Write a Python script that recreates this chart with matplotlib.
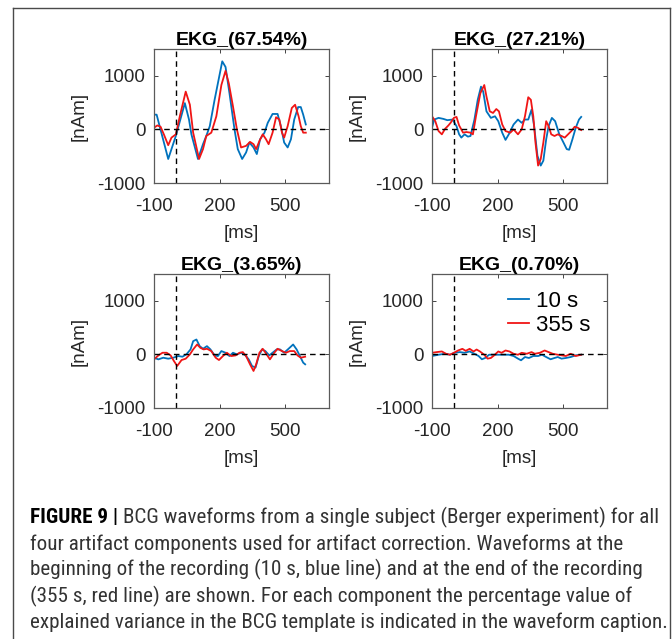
import matplotlib
matplotlib.use("Agg")
import matplotlib.pyplot as plt
from matplotlib.lines import Line2D
from matplotlib import font_manager
import numpy as np

plt.rcParams['font.family'] = ['Liberation Sans', 'DejaVu Sans']

# ---------------- data ----------------
titles = ["EKG_(67.54%)", "EKG_(27.21%)", "EKG_(3.65%)", "EKG_(0.70%)"]
series_labels = ["10 s", "355 s"]
xticks = [-100, 200, 500]
yticks = [-1000, 0, 1000]

# Panel 1
t1_blue = [-100, -88, -35, 0, 41, 60, 71, 101, 124, 139, 155, 177, 212, 227, 245, 268, 283, 303, 321, 336,
           355, 370, 385, 405, 420, 442, 465, 480, 495, 511, 526, 541, 559, 571, 582, 594]
v1_blue = [275, 275, -552, -120, 490, 184, -92, -552, -276, -123, 61, 552, 1270, 1165, 675, 0, -368, -552, -430, -245,
           -337, -460, -184, -61, 123, 288, 288, 61, -245, -337, -184, 184, 417, 417, 276, 92]
t1_red = [-100, -85, -70, -55, -35, -20, 0, 18, 45, 64, 79, 106, 124, 139, 162, 185, 208, 227, 242, 261,
          279, 298, 321, 339, 355, 367, 382, 397, 412, 424, 442, 458, 473, 485, 495, 511, 530, 545, 561, 571, 582, 594]
v1_red = [30, 74, 50, -92, -295, -153, -92, 245, 705, 460, -61, -552, -368, -123, -61, 245, 828, 1092, 859, 430,
          0, -337, -307, -233, -276, -368, -215, -92, -184, -276, -61, 227, 184, -61, -153, 61, 400, 460, 245, 61, -61, -61]

# Panel 2
t2_blue = [-100, -90, -70, -48, -30, -6, 12, 24, 34, 49, 64, 76, 94, 109, 124, 134, 149, 169, 188, 203,
           221, 236, 251, 273, 293, 310, 325, 340, 355, 367, 382, 397, 409, 422, 433, 448, 463, 482, 501, 516,
           527, 542, 557, 572, 582]
v2_blue = [30, 184, 215, 196, 172, 184, 61, -92, -153, -92, -135, -123, 184, 552, 798, 705, 337, 215, 245, 153,
           -61, -196, -92, 92, 184, 123, 184, 184, 368, 61, -490, -675, -583, -184, 61, 215, 153, -92, -245, -368,
           -380, -184, 30, 184, 233]
t2_red = [-100, -85, -70, -55, -40, -25, -15, 0, 12, 24, 42, 57, 76, 87, 101, 121, 139, 149, 164, 179,
          194, 206, 221, 236, 258, 273, 293, 310, 325, 340, 352, 363, 373, 385, 397, 409, 422, 433, 445, 460,
          475, 492, 507, 522, 537, 552, 567, 582]
v2_red = [245, 153, -31, -92, 12, 74, 123, 215, 233, 74, -61, -49, -61, -92, 245, 675, 828, 613, 337, 307,
          380, 337, 92, -31, -61, 0, -92, 0, 245, 600, 552, 245, -245, -675, -552, -245, 153, 61, -92, -123,
          -92, -123, -153, -92, -31, 49, 30, -12]

# Panel 3
t3_blue = [-100, -80, -58, -35, -12, 11, 30, 48, 67, 79, 94, 109, 124, 142, 158, 177, 192, 208, 227, 245,
           261, 279, 298, 318, 333, 348, 364, 379, 394, 409, 427, 442, 461, 476, 495, 515, 536, 552, 567, 582, 591]
v3_blue = [-62, -93, -62, -80, -62, -31, -43, 0, 93, 247, 278, 154, 105, 154, 93, -19, -31, 62, 31, -31,
           31, 0, 31, -19, -93, -216, -247, -31, 93, 62, -19, 31, 93, 93, 31, 105, 185, 93, -31, -154, -185]
t3_red = [-100, -80, -61, -42, -24, -9, 6, 26, 45, 64, 79, 97, 112, 127, 142, 162, 182, 197, 215, 233,
          253, 273, 291, 306, 321, 339, 355, 367, 382, 397, 415, 430, 450, 465, 485, 503, 521, 541, 556, 571, 591]
v3_red = [-93, -19, 31, 31, -19, -123, -216, -105, -80, 0, 93, 185, 123, 93, 105, 62, -62, -105, -31, 31,
          -31, -19, 31, 43, -31, -185, -309, -185, 31, 105, 0, -93, 31, 105, 62, 31, 62, 62, -19, -62, -43]

# Panel 4
t4_blue = [-100, -70, -40, -18, 4, 27, 49, 72, 94, 113, 128, 143, 161, 184, 206, 228, 251, 273, 293, 307,
           325, 343, 363, 385, 403, 422, 442, 460, 475, 492, 512, 534, 557, 582]
v4_blue = [-30, -6, 12, -6, 30, 43, 30, 55, 12, -30, -91, -67, -6, -6, -6, -6, -6, -30, -79, -110,
           -49, -67, -30, -30, -6, -49, -91, -67, -49, -79, -67, -49, -18, -6]
t4_red = [-100, -78, -55, -36, -18, 0, 19, 39, 54, 72, 90, 104, 119, 139, 154, 169, 184, 203, 218, 236,
          254, 273, 293, 310, 333, 355, 370, 393, 415, 433, 452, 475, 493, 512, 534, 557, 582]
v4_red = [30, 43, 55, 12, -6, 30, 73, 104, 67, 104, 55, 91, 55, -6, -79, -67, -18, 55, 30, 73,
          55, 12, -6, 30, 12, 43, 12, 30, 73, 43, 12, -6, -18, -30, 12, -30, -6]

panels = [
    (t1_blue, v1_blue, t1_red, v1_red),
    (t2_blue, v2_blue, t2_red, v2_red),
    (t3_blue, v3_blue, t3_red, v3_red),
    (t4_blue, v4_blue, t4_red, v4_red),
]

# ---------------- layout ----------------
W, H = 672, 639
fig = plt.figure(figsize=(W / 100, H / 100), dpi=100)

def fx(px):
    return px / W

def fy(py):
    return 1 - py / H

ax_px = [(154, 49), (432, 49), (154, 274), (432, 274)]
ax_w, ax_h = 175, 134

BLUE = '#0072BD'
RED = '#F01515'
AXC = '#262626'

for i, ((tb, vb, tr, vr), (lx, ty)) in enumerate(zip(panels, ax_px)):
    ax = fig.add_axes([fx(lx), fy(ty + ax_h), ax_w / W, ax_h / H])
    ax.plot(tb, vb, color=BLUE, lw=1.3, label=series_labels[0])
    ax.plot(tr, vr, color=RED, lw=1.3, label=series_labels[1])
    ax.axhline(0, color='black', lw=1.0, ls=(0, (4, 3)))
    ax.axvline(0, color='black', lw=1.0, ls=(0, (4, 3)))
    ax.set_xlim(-100, 700)
    ax.set_ylim(-1000, 1500)
    ax.set_xticks(xticks)
    ax.set_yticks(yticks)
    ax.set_xticklabels([str(v) for v in xticks])
    ax.set_yticklabels([str(v) for v in yticks])
    ax.tick_params(direction='in', length=3, width=0.6, top=True, right=True,
                   labelsize=13.5, colors=AXC)
    ax.tick_params(axis='x', pad=11)
    ax.tick_params(axis='y', pad=6)
    for sp in ax.spines.values():
        sp.set_color('#5a5a5a')
        sp.set_linewidth(0.9)
    ax.set_title(titles[i], fontsize=14, fontweight='bold', pad=3)
    ax.set_xlabel('[ms]', fontsize=13.5, color=AXC, labelpad=7)
    ax.set_ylabel('[nAm]', fontsize=13.5, color=AXC, labelpad=7)
    if i == 3:
        ax.legend(loc='upper right', frameon=False, fontsize=16,
                  handlelength=0.95, handletextpad=0.3, labelspacing=0.15,
                  borderaxespad=0.55, borderpad=0.2)

# outer border (open at bottom)
bc = '#4a4a4a'
fig.add_artist(Line2D([fx(13), fx(13)], [fy(8), 0], transform=fig.transFigure, color=bc, lw=1.0))
fig.add_artist(Line2D([fx(13), fx(670)], [fy(8), fy(8)], transform=fig.transFigure, color=bc, lw=1.0))
fig.add_artist(Line2D([fx(670), fx(670)], [fy(8), 0], transform=fig.transFigure, color=bc, lw=1.0))

# caption
cap_bold = "FIGURE 9 | "
cap_lines = [
    "BCG waveforms from a single subject (Berger experiment) for all",
    "four artifact components used for artifact correction. Waveforms at the",
    "beginning of the recording (10 s, blue line) and at the end of the recording",
    "(355 s, red line) are shown. For each component the percentage value of",
    "explained variance in the BCG template is indicated in the waveform caption.",
]
installed = {f.name for f in font_manager.fontManager.ttflist}
cap_font = [f for f in ['Roboto Condensed', 'Liberation Sans Narrow', 'DejaVu Sans Condensed',
                        'Liberation Sans', 'DejaVu Sans'] if f in installed]
renderer = fig.canvas.get_renderer()

def line_width(fs):
    ws = []
    a = fig.text(0, 0, cap_bold, fontsize=fs, family=cap_font, fontweight='bold')
    b = fig.text(0, 0, cap_lines[0], fontsize=fs, family=cap_font)
    ws.append(a.get_window_extent(renderer).width + b.get_window_extent(renderer).width)
    a.remove(); b.remove()
    for ln in cap_lines[1:]:
        c = fig.text(0, 0, ln, fontsize=fs, family=cap_font)
        ws.append(c.get_window_extent(renderer).width)
        c.remove()
    return max(ws)

cap_fs = 10 * 632 / line_width(10)

x0 = 30
baselines = [523, 549.5, 575.5, 602, 628]
tb = fig.text(fx(x0), fy(baselines[0]), cap_bold, fontsize=cap_fs, family=cap_font,
              fontweight='bold', color='black', va='baseline')
bw = tb.get_window_extent(renderer).width
fig.text(fx(x0 + bw), fy(baselines[0]), cap_lines[0], fontsize=cap_fs, family=cap_font,
         color='#333333', va='baseline')
for ln, yy in zip(cap_lines[1:], baselines[1:]):
    fig.text(fx(x0), fy(yy), ln, fontsize=cap_fs, family=cap_font, color='#333333', va='baseline')

fig.savefig('out.png', dpi=100, facecolor='white')
